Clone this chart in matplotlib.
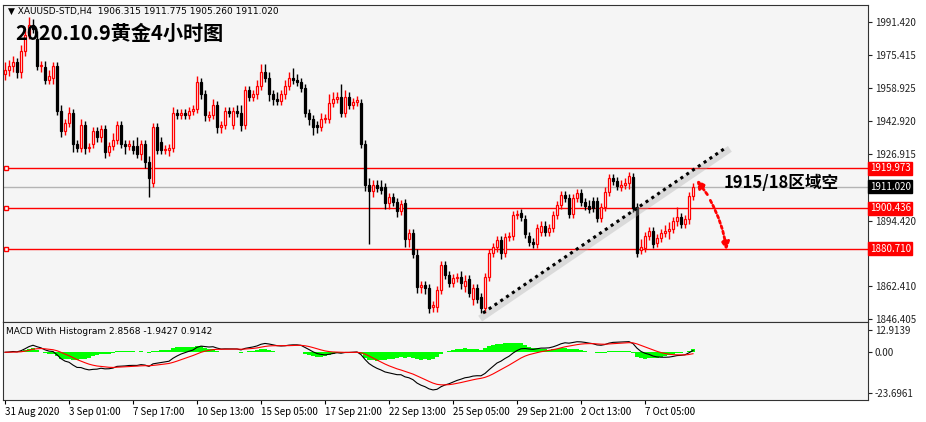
import matplotlib
matplotlib.use("Agg")
import matplotlib.pyplot as plt
import matplotlib.transforms as mtransforms
import numpy as np

plt.rcParams['font.family'] = ['Noto Sans CJK SC', 'DejaVu Sans']

# (open, close) per H4 bar
oc = [(1966,1968),(1968,1970),(1970,1972),(1972,1967),(1967,1977),(1977,1985),(1985,1990),(1990,1988),
      (1983,1970),(1970,1970.5),(1969.5,1963),(1963,1965),(1964,1970),(1970,1948),(1948,1938),(1938,1942),
      (1942,1947),(1947,1932),(1932,1930),(1930,1941),(1941,1930),(1930,1930.5),(1932,1938),(1938,1935),
      (1935,1939),(1939,1928),(1928,1931),(1931,1934),(1934,1941),(1941,1932),(1932,1931),(1931,1931.8),
      (1931,1929),(1931,1927),(1927,1932),(1932,1923),(1923,1915),(1913,1940),(1940,1929),(1933,1929),
      (1929,1929.5),(1929,1930),(1930,1947),(1947,1946),(1946,1947),(1947,1946),(1946,1948),(1948,1949),
      (1949,1962),(1962,1956),(1956,1946),(1945,1946),(1946,1951),(1951,1940),(1940,1941),(1941,1948),
      (1948,1947),(1941,1948),(1948,1947),(1947,1941),(1941,1958),(1958,1955),(1955,1956),(1956,1960),
      (1960,1967),(1967,1964),(1964,1956),(1956,1954),(1954,1953),(1953,1956),(1956,1960),(1960,1964),
      (1964,1963),(1963,1962),(1962,1959),(1959,1947),(1947,1944),(1944,1940),(1941,1940),(1940,1944),
      (1944,1944.5),(1944,1952),(1952,1954),(1954,1955),(1955,1947),(1947,1955),(1955,1951),(1951,1952.5),
      (1952.5,1953.5),(1952,1932),(1932,1912),(1912,1909),(1909,1912),(1912,1910.5),(1911,1909.5),(1911,1903),
      (1903,1906),(1906,1903.5),(1903.5,1899),(1899,1902.5),(1903,1885.5),(1885.5,1888.5),(1888.5,1878),(1877.5,1862),
      (1862,1863),(1863,1861.5),(1861.5,1851.5),(1852,1853),(1852,1860.5),(1860.5,1872.7),(1872.7,1868),(1868,1864),
      (1864,1866.5),(1866.5,1867),(1867,1864),(1862.5,1865),(1866,1859),(1856,1861.5),(1861.5,1856),(1857,1851.5),
      (1851.5,1867),(1867,1878.6),(1878.6,1881.3),(1881.3,1885),(1885,1878.6),(1878.6,1886.5),(1886.5,1887),(1887,1897.2),
      (1897,1897.5),(1898,1896),(1895,1888),(1887,1884),(1884,1883),(1883,1891),(1889,1892),(1892,1889),
      (1889,1891),(1891,1897),(1897,1902),(1902,1907),(1907,1905.5),(1905.5,1897.5),(1897.5,1905.5),(1905.5,1908),
      (1908,1903.5),(1903.5,1901.5),(1901.5,1900),(1904,1900.5),(1904,1895.5),(1895.5,1901),(1901,1908.6),(1908.6,1915.3),
      (1915.3,1913.7),(1913.7,1911.3),(1911,1912),(1912,1913),(1913,1916),(1915.5,1900.6),(1901,1878.6),(1880,1881.5),
      (1881,1887),(1887,1889.5),(1889.5,1883),(1883.5,1886),(1886,1888.5),(1888.5,1889.5),(1889.5,1890.5),(1890.5,1894),
      (1894,1896),(1896,1893),(1893,1895),(1895,1906.5),(1906.5,1911)]
# upper / lower wick lengths
wick_up = [4,3,3,2,3,3,4,3, 4,2,3,3,2,2,3,2, 3,2,2,3,2,2,2,2, 2,2,2,3,2,2,2,2,
           3,4,2,2,3,2,2,2, 2,2,3,2,2,2,2,2, 3,2,2,2,3,2,2,2, 2,2,3,4,2,2,2,3,
           4,4,3,2,3,2,3,3, 5,3,2,2,2,2,2,3, 2,4,3,2,6,3,2,2, 2,2,2,3,2,2,3,2,
           2,2,2,2,2,2,2,3, 2,2,2,2,2,2,2,2, 2,2,3,3,2,2,2,2, 2,2,2,2,2,2,2,2,
           2,2,2,2,2,2,2,2, 2,2,2,2,2,2,2,2, 2,2,3,2,2,2,2,2, 2,2,2,2,2,2,2,4,
           2,2,2,2,2,3,3,2, 5,2,2,2,2,2,2,2, 2,2,2,2,2,2,2,2, 2,1,2]
wick_dn = [3,3,3,3,3,2,2,2, 2,3,2,2,3,2,3,2, 2,4,2,2,3,2,2,2, 2,3,2,2,2,2,4,2,
           2,2,3,3,9,2,2,2, 2,3,2,2,2,2,2,2, 2,2,3,2,2,3,3,2, 2,2,2,3,2,2,2,2,
           2,2,3,3,2,2,2,2, 2,2,2,2,3,4,3,2, 2,2,2,2,2,2,2,2, 2,2,3,26,3,2,2,3,
           3,2,3,2,4,4,2,3, 3,3,2,2,2,2,2,2, 2,2,3,3,2,3,2,2, 2,2,2,2,3,2,2,2,
           2,2,2,2,2,2,2,2, 2,2,2,2,2,2,2,2, 2,2,2,2,2,2,2,2, 2,2,2,2,3,2,2,2,
           2,2,2,2,2,2,4,2, 2,2,2,2,2,2,2,2, 2,2,3,2,2,2,2,2, 2,2,2]
levels = [1919.973, 1900.436, 1880.710]
level_labels = ["1919.973", "1900.436", "1880.710"]
last_price = 1911.020
price_ticks = [1991.420, 1975.415, 1958.925, 1942.920, 1926.915, 1894.420, 1862.410, 1846.405]
date_labels = ["31 Aug 2020", "3 Sep 01:00", "7 Sep 17:00", "10 Sep 13:00", "15 Sep 05:00",
               "17 Sep 21:00", "22 Sep 13:00", "25 Sep 05:00", "29 Sep 21:00", "2 Oct 13:00", "7 Oct 05:00"]
macd_ticks = [12.9139, 0.0, -23.6961]

opens = np.array([a for a, b in oc]); closes = np.array([b for a, b in oc])
n = len(oc)
highs = np.maximum(opens, closes) + np.array(wick_up[:n])
lows = np.minimum(opens, closes) - np.array(wick_dn[:n])
x = np.arange(n)

BG = "#f5f5f5"
fig = plt.figure(figsize=(9.26, 4.22), dpi=100)
fig.patch.set_facecolor("white")
W, H = 926, 422
ax = fig.add_axes([3/W, (H-322)/H, 865/W, 317/H])
mx = fig.add_axes([3/W, 22/H, 865/W, 78/H], sharex=ax)
for a in (ax, mx):
    a.set_facecolor(BG)
    for s in a.spines.values():
        s.set_color("#333333"); s.set_linewidth(0.8)
    a.yaxis.tick_right()
    a.tick_params(axis='y', labelsize=7, length=3, pad=2, colors="#222222")

# candles
for i in x:
    up = closes[i] >= opens[i]
    col = "#ff0000" if up else "black"
    ax.vlines(i, lows[i], highs[i], color=col, lw=1, zorder=3)
    lo, hi = sorted((opens[i], closes[i]))
    ax.add_patch(plt.Rectangle((i-0.35, lo), 0.7, max(hi-lo, 0.3),
                               facecolor=("white" if up else "black"), edgecolor=col, lw=0.9, zorder=4))

ax.set_xlim(-0.5, 215.75)
ax.set_ylim(1844.9, 1999.7)
ax.set_yticks(price_ticks)
ax.set_yticklabels([f"{v:.3f}" for v in price_ticks])
ax.tick_params(axis='x', bottom=False, labelbottom=False)

tr = mtransforms.blended_transform_factory(ax.transAxes, ax.transData)
for lv, lb in zip(levels, level_labels):
    ax.axhline(lv, color="red", lw=1, zorder=2)
    ax.plot([0.004], [lv], marker='s', ms=3.5, mfc='white', mec='red', transform=tr, zorder=5, clip_on=False)
    ax.text(1.002, lv, lb, transform=tr, fontsize=7, color="white", va="center", ha="left",
            bbox=dict(boxstyle="square,pad=0.15", fc="red", ec="red"), clip_on=False, zorder=6)
ax.axhline(last_price, color="#b4b4b4", lw=1, zorder=1)
ax.text(1.002, last_price, f"{last_price:.3f}", transform=tr, fontsize=7, color="white", va="center",
        ha="left", bbox=dict(boxstyle="square,pad=0.15", fc="black", ec="black"), clip_on=False, zorder=6)

# trend line with shadow
ax.plot([119.5, 180.5], [1847.5, 1928.5], color="#aaaaaa", lw=5, alpha=0.35, zorder=5)
ax.plot([119.5, 180.5], [1849.3, 1930.4], color="black", lw=2.2, ls=(0, (1, 1.3)), zorder=6)
# red dotted arrows
ax.annotate("", xy=(180.5, 1878.5), xytext=(176, 1905.5),
            arrowprops=dict(arrowstyle="-|>", color="red", lw=2, ls=(0, (1, 1)),
                            connectionstyle="arc3,rad=-0.1", mutation_scale=12), zorder=7)
ax.annotate("", xy=(172.5, 1915.5), xytext=(176, 1906),
            arrowprops=dict(arrowstyle="-|>", color="red", lw=2, ls=(0, (1, 1)), mutation_scale=12), zorder=7)

fig.text(15/W, 1-33/H, "2020.10.9黄金4小时图", fontsize=14.5, fontweight="bold", va="center", ha="left")
fig.text(724/W, 1-183/H, "1915/18区域空", fontsize=12, fontweight="bold", va="center", ha="left")
fig.text(8/W, 1-11/H, "▼ XAUUSD-STD,H4  1906.315 1911.775 1905.260 1911.020", fontsize=6.5,
         va="center", ha="left", family=['DejaVu Sans'])

# MACD
def ema(v, p):
    out = np.empty_like(v); k = 2/(p+1); out[0] = v[0]
    for j in range(1, len(v)):
        out[j] = v[j]*k + out[j-1]*(1-k)
    return out
macd = ema(closes, 12) - ema(closes, 26)
sig = ema(macd, 9)
hist = macd - sig
mx.bar(x, hist, width=0.8, color="#00ff00", zorder=3)
mx.plot(x, macd, color="black", lw=0.8, zorder=4)
mx.plot(x, sig, color="red", lw=0.8, zorder=4)
mx.set_ylim(-27.9, 17.7)
mx.set_yticks(macd_ticks)
mx.set_yticklabels(["12.9139", "0.00", "-23.6961"])
mx.text(0.004, 0.93, "MACD With Histogram 2.8568 -1.9427 0.9142", transform=mx.transAxes,
        fontsize=6.5, va="top", ha="left", family=['DejaVu Sans'])
ticks = [16*k for k in range(len(date_labels))]
mx.set_xticks(ticks)
mx.set_xticklabels(date_labels, fontsize=7, ha="left")
mx.tick_params(axis='x', length=3, pad=2)

fig.savefig("out.png", dpi=100, facecolor="white")
